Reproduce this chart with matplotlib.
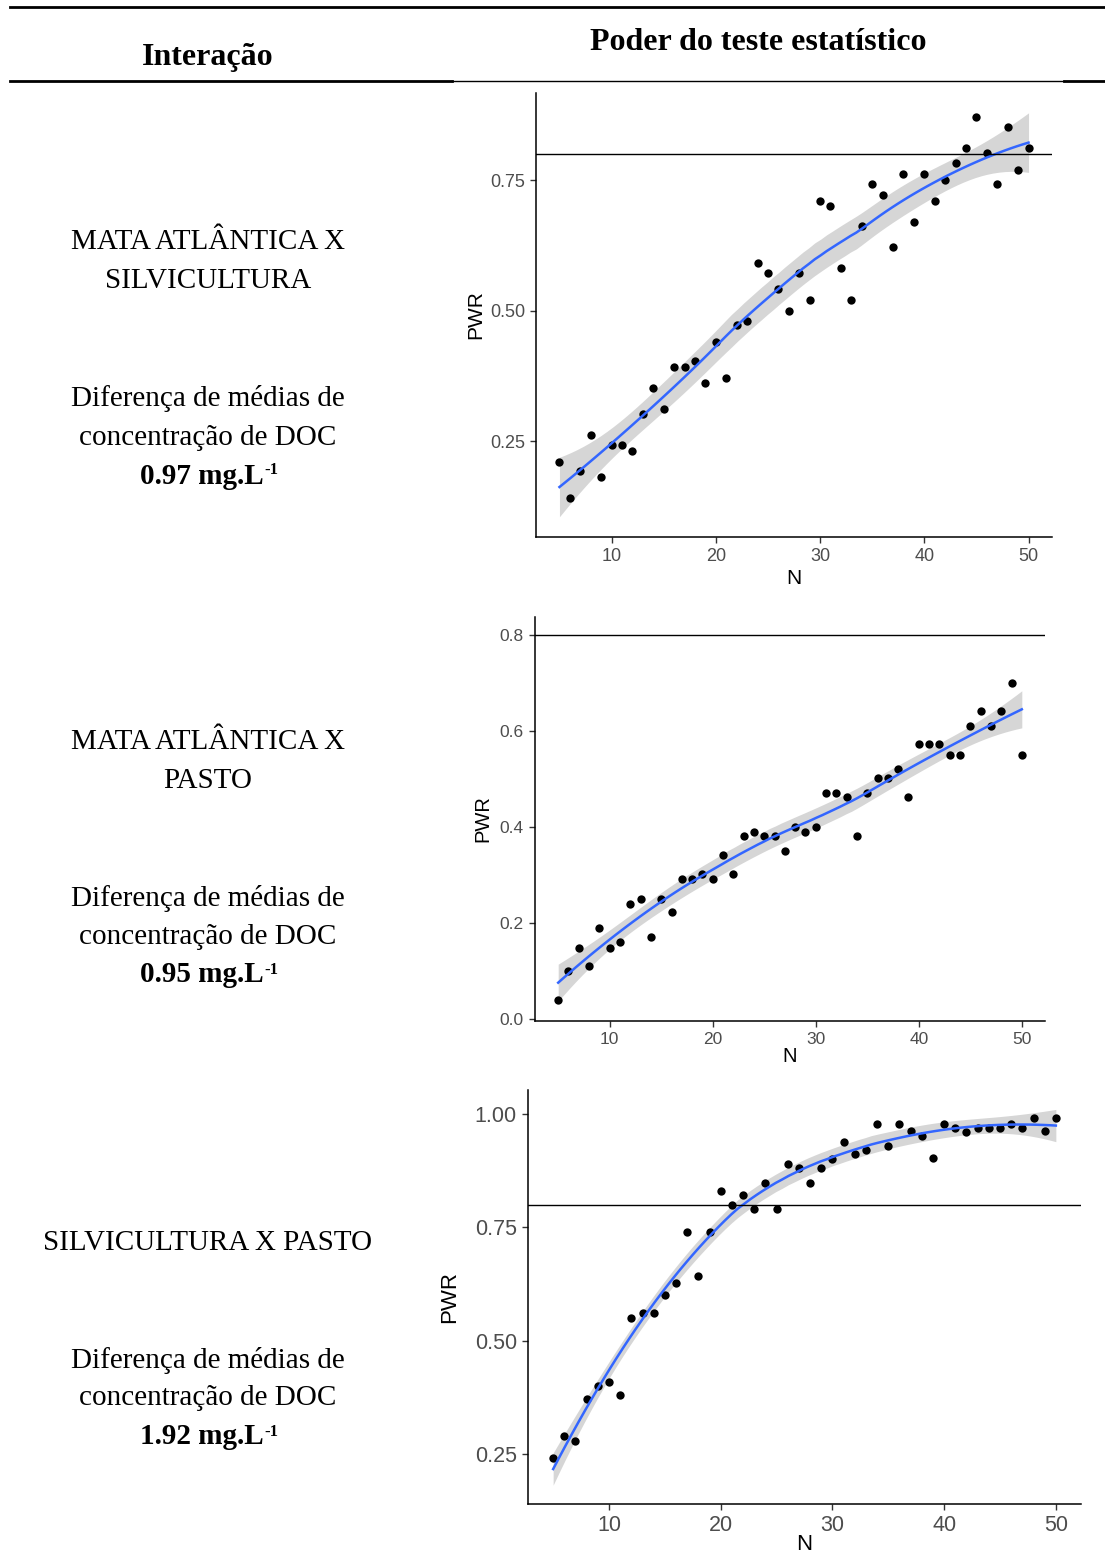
import numpy as np
import matplotlib
matplotlib.use('Agg')
import matplotlib.pyplot as plt
from matplotlib.lines import Line2D

# ---- data ----
n_vals = list(range(5, 51))

pwr_mata_silvi = [0.210, 0.141, 0.193, 0.262, 0.181, 0.242, 0.242, 0.230, 0.302, 0.351,
                  0.311, 0.391, 0.391, 0.403, 0.362, 0.440, 0.371, 0.472, 0.480, 0.592,
                  0.572, 0.541, 0.500, 0.572, 0.520, 0.710, 0.701, 0.581, 0.520, 0.662,
                  0.742, 0.721, 0.621, 0.761, 0.670, 0.761, 0.710, 0.750, 0.782, 0.811,
                  0.871, 0.802, 0.742, 0.851, 0.770, 0.811]

pwr_mata_pasto = [0.040, 0.101, 0.149, 0.110, 0.190, 0.149, 0.160, 0.240, 0.251, 0.172,
                  0.251, 0.222, 0.292, 0.292, 0.302, 0.292, 0.342, 0.302, 0.382, 0.390,
                  0.382, 0.382, 0.350, 0.401, 0.390, 0.401, 0.470, 0.470, 0.462, 0.382,
                  0.470, 0.502, 0.502, 0.521, 0.462, 0.572, 0.572, 0.572, 0.550, 0.550,
                  0.611, 0.641, 0.611, 0.641, 0.699, 0.550]

pwr_silvi_pasto = [0.241, 0.291, 0.279, 0.371, 0.400, 0.409, 0.381, 0.551, 0.561, 0.561,
                   0.601, 0.628, 0.740, 0.642, 0.740, 0.830, 0.799, 0.821, 0.791, 0.849,
                   0.791, 0.889, 0.881, 0.849, 0.880, 0.901, 0.939, 0.911, 0.920, 0.979,
                   0.930, 0.979, 0.962, 0.951, 0.902, 0.979, 0.970, 0.960, 0.970, 0.970,
                   0.970, 0.979, 0.970, 0.992, 0.962, 0.992]

power_ref = 0.8

row_titles = [['MATA ATLÂNTICA X', 'SILVICULTURA'],
              ['MATA ATLÂNTICA X', 'PASTO'],
              ['SILVICULTURA X PASTO']]
diff_values = ['0.97', '0.95', '1.92']


def loess_fit(x, y, xnew, span=0.75):
    # local quadratic regression with tricube weights (like R loess defaults)
    x = np.asarray(x, float)
    y = np.asarray(y, float)
    n = len(x)
    q = int(np.floor(n * span))

    def row(x0):
        d = np.abs(x - x0)
        h = np.sort(d)[q - 1]
        w = np.clip(1 - (d / h) ** 3, 0, None) ** 3
        X = np.column_stack([np.ones(n), x - x0, (x - x0) ** 2])
        XtW = X.T * w
        return np.linalg.solve(XtW @ X, XtW)[0]

    L = np.array([row(v) for v in x])
    R = np.eye(n) - L
    M = R.T @ R
    d1 = np.trace(M)
    d2 = np.trace(M @ M)
    sigma = np.sqrt(np.sum((R @ y) ** 2) / d1)
    df = d1 ** 2 / d2
    z = 1.959964
    tq = z + (z ** 3 + z) / (4 * df) + (5 * z ** 5 + 16 * z ** 3 + 3 * z) / (96 * df ** 2)

    Lnew = np.array([row(v) for v in xnew])
    fit = Lnew @ y
    se = sigma * np.sqrt(np.sum(Lnew ** 2, axis=1))
    return fit, fit - tq * se, fit + tq * se


W, H = 1105, 1564
fig = plt.figure(figsize=(W / 100, H / 100), dpi=100)
bg = fig.add_axes([0, 0, 1, 1])
bg.axis('off')

# table rules
def hrule(x0, x1, y, lw):
    fig.add_artist(Line2D([x0 / W, x1 / W], [1 - y / H, 1 - y / H], color='black', lw=lw))

hrule(10, 1105, 6.5, 2.0)
hrule(10, 452, 81, 2.0)
hrule(452, 1064, 80.5, 1.0)
hrule(1064, 1105, 81, 2.0)

serif = 'Liberation Serif'
fig.text(208 / W, 1 - 58 / H, 'Interação', ha='center', va='center',
         family=serif, weight='bold', fontsize=23)
fig.text(758 / W, 1 - 42 / H, 'Poder do teste estatístico', ha='center', va='center',
         family=serif, weight='bold', fontsize=23)

# left column text
fs = 21
title_y = [[242, 281], [742, 781], [1243]]
diff_y = [[399, 438, 476], [898, 937, 975], [1360, 1398, 1437]]
for i in range(3):
    for t, yy in zip(row_titles[i], title_y[i]):
        fig.text(208 / W, 1 - yy / H, t, ha='center', va='center', family=serif, fontsize=fs)
    yy = diff_y[i]
    fig.text(208 / W, 1 - yy[0] / H, 'Diferença de médias de', ha='center', va='center',
             family=serif, fontsize=fs)
    fig.text(208 / W, 1 - yy[1] / H, 'concentração de DOC', ha='center', va='center',
             family=serif, fontsize=fs)
    main = fig.text(202 / W, 1 - yy[2] / H, diff_values[i] + ' mg.L', ha='center', va='center',
                    family=serif, weight='bold', fontsize=fs)
    bg.annotate('-1', xy=(1.0, 1.0), xycoords=main, xytext=(0.5, 0), textcoords='offset points',
                ha='left', va='top', family=serif, weight='bold', fontsize=12)

# plots: (left, top, right, bottom) in pixels, ylim, yticks, font sizes
panels = [
    (pwr_mata_silvi, (536, 93, 1052, 537), (0.066, 0.917), [0.25, 0.50, 0.75], '%.2f', 13, 15, 579, 476),
    (pwr_mata_pasto, (535, 617, 1045, 1021), (-0.004, 0.8375), [0.0, 0.2, 0.4, 0.6, 0.8], '%.1f', 12.5, 14.5, 1056, 483),
    (pwr_silvi_pasto, (528, 1090, 1081, 1504), (0.140, 1.053), [0.25, 0.50, 0.75, 1.00], '%.2f', 15.5, 16, 1544, 450),
]

xgrid = np.linspace(min(n_vals), max(n_vals), 80)

for yv, box, ylim, yt, fmt, tfs, lfs, nlab_y, pwr_x in panels:
    l, t, r, b = box
    ax = fig.add_axes([l / W, 1 - b / H, (r - l) / W, (b - t) / H])
    fit, lo, hi = loess_fit(n_vals, yv, xgrid)
    ax.fill_between(xgrid, lo, hi, color='#999999', alpha=0.4, lw=0, zorder=1)
    ax.scatter(n_vals, yv, s=36, color='black', lw=0, zorder=2)
    ax.plot(xgrid, fit, color='#3366FF', lw=1.8, zorder=3)
    ax.axhline(power_ref, color='black', lw=1.0, zorder=4)
    ax.set_xlim(2.75, 52.25)
    ax.set_ylim(*ylim)
    ax.set_xticks([10, 20, 30, 40, 50])
    ax.set_yticks(yt)
    ax.set_yticklabels([fmt % v for v in yt])
    for s in ['top', 'right']:
        ax.spines[s].set_visible(False)
    for s in ['left', 'bottom']:
        ax.spines[s].set_linewidth(1.1)
        ax.spines[s].set_color('black')
    ax.tick_params(direction='out', length=4, width=1.0, color='#333333',
                   labelcolor='#4D4D4D', labelsize=tfs, pad=4)
    for lab in ax.get_xticklabels() + ax.get_yticklabels():
        lab.set_family('Liberation Sans')
    fig.text((l + r) / 2 / W, 1 - nlab_y / H, 'N', ha='center', va='center',
             family='Liberation Sans', fontsize=lfs)
    fig.text(pwr_x / W, 1 - (t + b) / 2 / H, 'PWR', ha='center', va='center', rotation=90,
             family='Liberation Sans', fontsize=lfs)

fig.savefig('out.png', dpi=100)
